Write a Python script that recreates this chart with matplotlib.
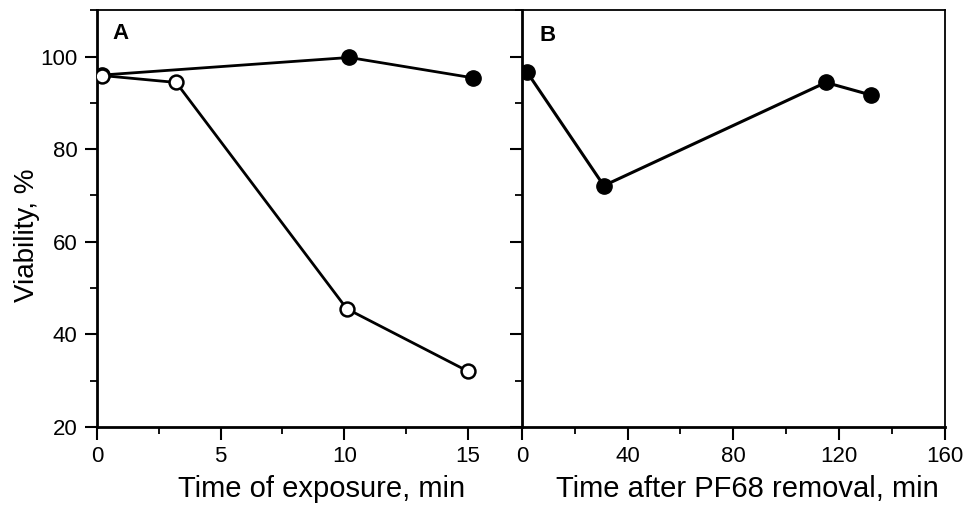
import numpy as np
import matplotlib
matplotlib.use("Agg")
import matplotlib.pyplot as plt
from matplotlib.ticker import MultipleLocator

plt.rcParams['font.family'] = ['Liberation Sans', 'DejaVu Sans']

# Panel A: viability during exposure
t_filled = [0.2, 10.2, 15.2]
v_filled = [96.0, 99.8, 95.4]
t_open = [0.2, 3.2, 10.1, 15.0]
v_open = [95.9, 94.4, 45.5, 32.0]

# Panel B: viability after PF68 removal
t_after = [2, 31, 115, 132]
v_after = [96.6, 72.1, 94.4, 91.7]

fig = plt.figure(figsize=(9.7, 5.13), dpi=100)
axA = fig.add_axes([0.100, 0.168, 0.436, 0.812])
axB = fig.add_axes([0.538, 0.168, 0.436, 0.812])

axA.plot(t_filled, v_filled, '-', color='k', lw=2.0, marker='o', ms=11,
         mfc='k', mec='k', zorder=3)
axA.plot(t_open, v_open, '-', color='k', lw=2.0, marker='o', ms=10,
         mfc='white', mec='k', mew=1.8, zorder=4)
axB.plot(t_after, v_after, '-', color='k', lw=2.2, marker='o', ms=11,
         mfc='k', mec='k', zorder=3)

axA.set_xlim(0, 17.1)
axA.set_ylim(20, 110)
axB.set_xlim(0, 160)
axB.set_ylim(20, 110)

axA.xaxis.set_major_locator(MultipleLocator(5))
axA.xaxis.set_minor_locator(MultipleLocator(2.5))
axA.yaxis.set_major_locator(MultipleLocator(20))
axA.yaxis.set_minor_locator(MultipleLocator(10))
axB.xaxis.set_major_locator(MultipleLocator(40))
axB.xaxis.set_minor_locator(MultipleLocator(20))
axB.yaxis.set_major_locator(MultipleLocator(20))
axB.yaxis.set_minor_locator(MultipleLocator(10))

for ax in (axA, axB):
    ax.tick_params(which='major', direction='out', length=9, width=1.5,
                   labelsize=16, pad=5)
    ax.tick_params(which='minor', direction='out', length=5, width=1.3)
    ax.tick_params(top=False, right=False, which='both')
    for s in ax.spines.values():
        s.set_linewidth(1.3)
    ax.spines['left'].set_linewidth(2.0)
    ax.spines['bottom'].set_linewidth(2.0)

axB.tick_params(axis='y', labelleft=False)
axA.spines['right'].set_visible(False)

axA.set_ylabel('Viability, %', fontsize=20)
axA.yaxis.set_label_coords(-0.135, 0.46)
axA.set_xlabel('Time of exposure, min', fontsize=21)
axA.xaxis.set_label_coords(0.53, -0.115)
axB.set_xlabel('Time after PF68 removal, min', fontsize=21)
axB.xaxis.set_label_coords(0.534, -0.115)

axA.text(0.055, 0.945, 'A', transform=axA.transAxes, fontsize=16,
         fontweight='bold', ha='center', va='center')
axB.text(0.06, 0.94, 'B', transform=axB.transAxes, fontsize=16,
         fontweight='bold', ha='center', va='center')

fig.savefig('out.png', dpi=100)
